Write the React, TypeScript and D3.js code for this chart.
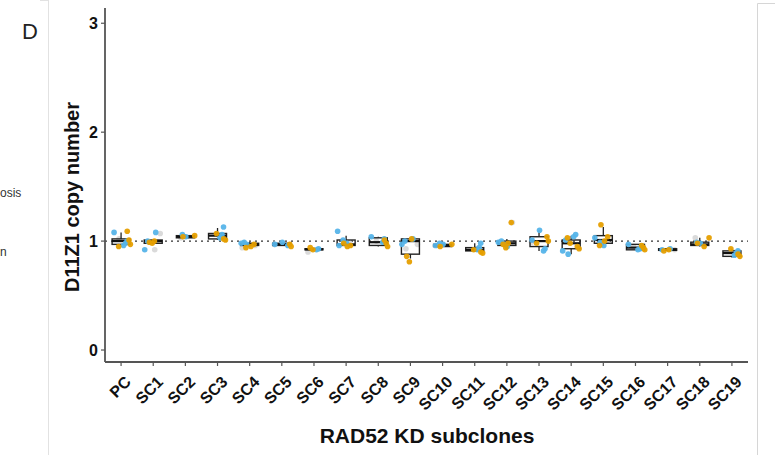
import React, { useEffect, useRef } from 'react';
import * as d3 from 'd3';

// subclone names on the x axis
const categories = ['PC', 'SC1', 'SC2', 'SC3', 'SC4', 'SC5', 'SC6', 'SC7', 'SC8', 'SC9',
  'SC10', 'SC11', 'SC12', 'SC13', 'SC14', 'SC15', 'SC16', 'SC17', 'SC18', 'SC19'];

// copy number per replicate, three colour groups
const blueVals = [
  [1.08, 1.0, 0.98, 0.96], [1.08, 1.0, 0.92], [1.06, 1.04], [1.13, 1.06, 1.03],
  [0.99, 0.98, 0.97], [0.99, 0.97, 0.96], [0.93, 0.92], [1.09, 1.01, 0.98, 0.96],
  [1.04, 1.02, 0.99], [1.02, 1.0, 0.97], [0.98, 0.97, 0.96], [0.98, 0.94, 0.92],
  [1.0, 0.99, 0.97, 0.95], [1.1, 1.01, 0.93, 0.91], [1.06, 1.04, 1.01, 0.91, 0.88], [1.03, 0.99, 0.96],
  [0.97, 0.95, 0.93, 0.92], [0.93, 0.92], [0.99, 0.98], [0.91, 0.89, 0.87],
];
const orangeVals = [
  [1.09, 1.01, 0.97, 0.95], [1.0, 0.99, 0.98], [1.05, 1.04], [1.07, 1.02, 1.01],
  [0.97, 0.95, 0.94], [0.97, 0.95], [0.94, 0.92], [0.98, 0.96, 0.95],
  [1.01, 0.98, 0.95], [1.02, 0.86, 0.81], [0.97, 0.95], [0.92, 0.9, 0.89],
  [1.17, 0.98, 0.97, 0.94], [1.04, 1.0, 0.98], [1.03, 0.98, 0.95, 0.93], [1.15, 1.04, 1.0, 0.96],
  [0.96, 0.94, 0.92], [0.92, 0.91], [1.03, 0.98, 0.95], [0.93, 0.88, 0.86],
];
const greyVals = [
  [1.02, 0.99], [1.07, 0.99, 0.92], [1.03], [1.05, 1.04],
  [0.96, 0.94], [0.97], [0.9], [0.98],
  [1.0], [0.97, 0.93], [0.96], [0.93],
  [1.17], [0.99], [1.0], [1.0],
  [0.95], [0.92], [1.03], [0.9],
];

// box plot statistics as drawn
const boxQ1 = [0.97, 0.98, 1.03, 1.02, 0.96, 0.96, 0.92, 0.96, 0.96, 0.88,
  0.95, 0.91, 0.96, 0.95, 0.93, 0.98, 0.92, 0.915, 0.96, 0.86];
const boxMed = [1.0, 1.0, 1.04, 1.05, 0.97, 0.97, 0.925, 0.97, 0.99, 1.0,
  0.96, 0.92, 0.98, 1.0, 0.98, 1.01, 0.94, 0.92, 0.97, 0.89];
const boxQ3 = [1.02, 1.01, 1.05, 1.07, 0.98, 0.98, 0.93, 1.01, 1.03, 1.02,
  0.97, 0.94, 1.0, 1.04, 1.01, 1.05, 0.97, 0.93, 0.99, 0.91];
const whiskLo = [0.96, 0.97, 1.03, 1.01, 0.95, 0.96, 0.92, 0.96, 0.95, 0.84,
  0.95, 0.9, 0.94, 0.91, 0.88, 0.96, 0.92, 0.91, 0.95, 0.85];
const whiskHi = [1.08, 1.02, 1.06, 1.12, 0.99, 0.98, 0.94, 1.05, 1.04, 1.02,
  0.98, 0.98, 1.02, 1.1, 1.05, 1.13, 0.97, 0.93, 1.03, 0.93];

const yTicks = [0, 1, 2, 3];

export default function App() {
  const ref = useRef<SVGSVGElement>(null);

  useEffect(() => {
    const svg = d3.select(ref.current);
    svg.selectAll('*').remove();

    const left = 105, right = 748, top = 8, bottom = 362;

    const x = d3.scaleBand().domain(categories).range([left, right]);
    const y = d3.scaleLinear().domain([-0.11, 3.14]).range([bottom, top]);
    const bw = x.bandwidth();

    const font = 'Liberation Sans, Arial, Helvetica, sans-serif';

    // bits of the neighbouring panels
    svg.append('line').attr('x1', 48.5).attr('x2', 48.5).attr('y1', 0).attr('y2', 455)
      .attr('stroke', '#e2e2e2');
    svg.append('line').attr('x1', 40).attr('x2', 48).attr('y1', 0.5).attr('y2', 0.5)
      .attr('stroke', '#e2e2e2');
    svg.append('path').attr('d', 'M775,3.5H757.5V455').attr('fill', 'none').attr('stroke', '#d6d6d6');
    svg.append('text').attr('x', 22).attr('y', 39).attr('font-size', 22)
      .attr('font-family', font).attr('fill', '#222').text('D');
    svg.append('text').attr('x', 0).attr('y', 197).attr('font-size', 12)
      .attr('font-family', font).attr('fill', '#333').text('osis');
    svg.append('text').attr('x', 0).attr('y', 256).attr('font-size', 12)
      .attr('font-family', font).attr('fill', '#333').text('n');

    // reference line at 1
    svg.append('line').attr('x1', left).attr('x2', right).attr('y1', y(1)).attr('y2', y(1))
      .attr('stroke', '#333').attr('stroke-width', 1.3).attr('stroke-dasharray', '2,4');

    const jit = [-0.6, 0.35, -0.2, 0.7, -0.45, 0.15, 0.55, -0.75];

    categories.forEach((c, i) => {
      const cx = x(c)! + bw / 2;
      const g = svg.append('g');

      // grey points behind
      greyVals[i].forEach((v, k) => {
        g.append('circle').attr('cx', cx + jit[(k + i + 2) % 8] * 10).attr('cy', y(v))
          .attr('r', 2.8).attr('fill', '#dadada');
      });

      const half = 9;
      g.append('line').attr('x1', cx).attr('x2', cx).attr('y1', y(whiskHi[i])).attr('y2', y(boxQ3[i]))
        .attr('stroke', '#222').attr('stroke-width', 1.3);
      g.append('line').attr('x1', cx).attr('x2', cx).attr('y1', y(boxQ1[i])).attr('y2', y(whiskLo[i]))
        .attr('stroke', '#222').attr('stroke-width', 1.3);
      g.append('rect').attr('x', cx - half).attr('width', half * 2)
        .attr('y', y(boxQ3[i])).attr('height', Math.max(1, y(boxQ1[i]) - y(boxQ3[i])))
        .attr('fill', 'none').attr('stroke', '#222').attr('stroke-width', 1.4);
      g.append('line').attr('x1', cx - half).attr('x2', cx + half)
        .attr('y1', y(boxMed[i])).attr('y2', y(boxMed[i]))
        .attr('stroke', '#111').attr('stroke-width', 2.2);

      blueVals[i].forEach((v, k) => {
        g.append('circle').attr('cx', cx + jit[(k * 3 + i) % 8] * 10 - 1).attr('cy', y(v))
          .attr('r', 2.8).attr('fill', '#56B4E9').attr('opacity', 0.95);
      });
      orangeVals[i].forEach((v, k) => {
        g.append('circle').attr('cx', cx + jit[(k * 5 + i + 1) % 8] * 9 + 3).attr('cy', y(v))
          .attr('r', 2.8).attr('fill', '#E69F00').attr('opacity', 0.95);
      });
    });

    // axes
    svg.append('line').attr('x1', left).attr('x2', left).attr('y1', top).attr('y2', bottom)
      .attr('stroke', '#555').attr('stroke-width', 1.8);
    svg.append('line').attr('x1', left).attr('x2', right).attr('y1', bottom).attr('y2', bottom)
      .attr('stroke', '#555').attr('stroke-width', 1.8);

    yTicks.forEach(t => {
      svg.append('line').attr('x1', left - 4).attr('x2', left).attr('y1', y(t)).attr('y2', y(t))
        .attr('stroke', '#555').attr('stroke-width', 1.2);
      svg.append('text').attr('x', left - 7).attr('y', y(t)).attr('dy', '0.36em')
        .attr('text-anchor', 'end').attr('font-family', font).attr('font-weight', 'bold')
        .attr('font-size', 16).attr('fill', '#111').text(String(t));
    });

    categories.forEach(c => {
      const cx = x(c)! + bw / 2;
      svg.append('line').attr('x1', cx).attr('x2', cx).attr('y1', bottom).attr('y2', bottom + 4)
        .attr('stroke', '#555').attr('stroke-width', 1.2);
      svg.append('text')
        .attr('transform', `translate(${cx + 3},${bottom + 13}) rotate(-45)`)
        .attr('text-anchor', 'end').attr('dy', '0.7em')
        .attr('font-family', font).attr('font-weight', 'bold').attr('font-size', 16)
        .attr('fill', '#111').text(c);
    });

    svg.append('text').attr('x', 427).attr('y', 443).attr('text-anchor', 'middle')
      .attr('font-family', font).attr('font-weight', 'bold').attr('font-size', 21)
      .attr('fill', '#111').text('RAD52 KD subclones');

    svg.append('text').attr('transform', `translate(79,${(top + bottom) / 2 + 12}) rotate(-90)`)
      .attr('text-anchor', 'middle')
      .attr('font-family', font).attr('font-weight', 'bold').attr('font-size', 20)
      .attr('fill', '#111').text('D11Z1 copy number');
  }, []);

  return (
    <svg ref={ref} width={775} height={455}
      style={{ position: 'absolute', left: 0, top: 0, background: '#fff' }} />
  );
}
